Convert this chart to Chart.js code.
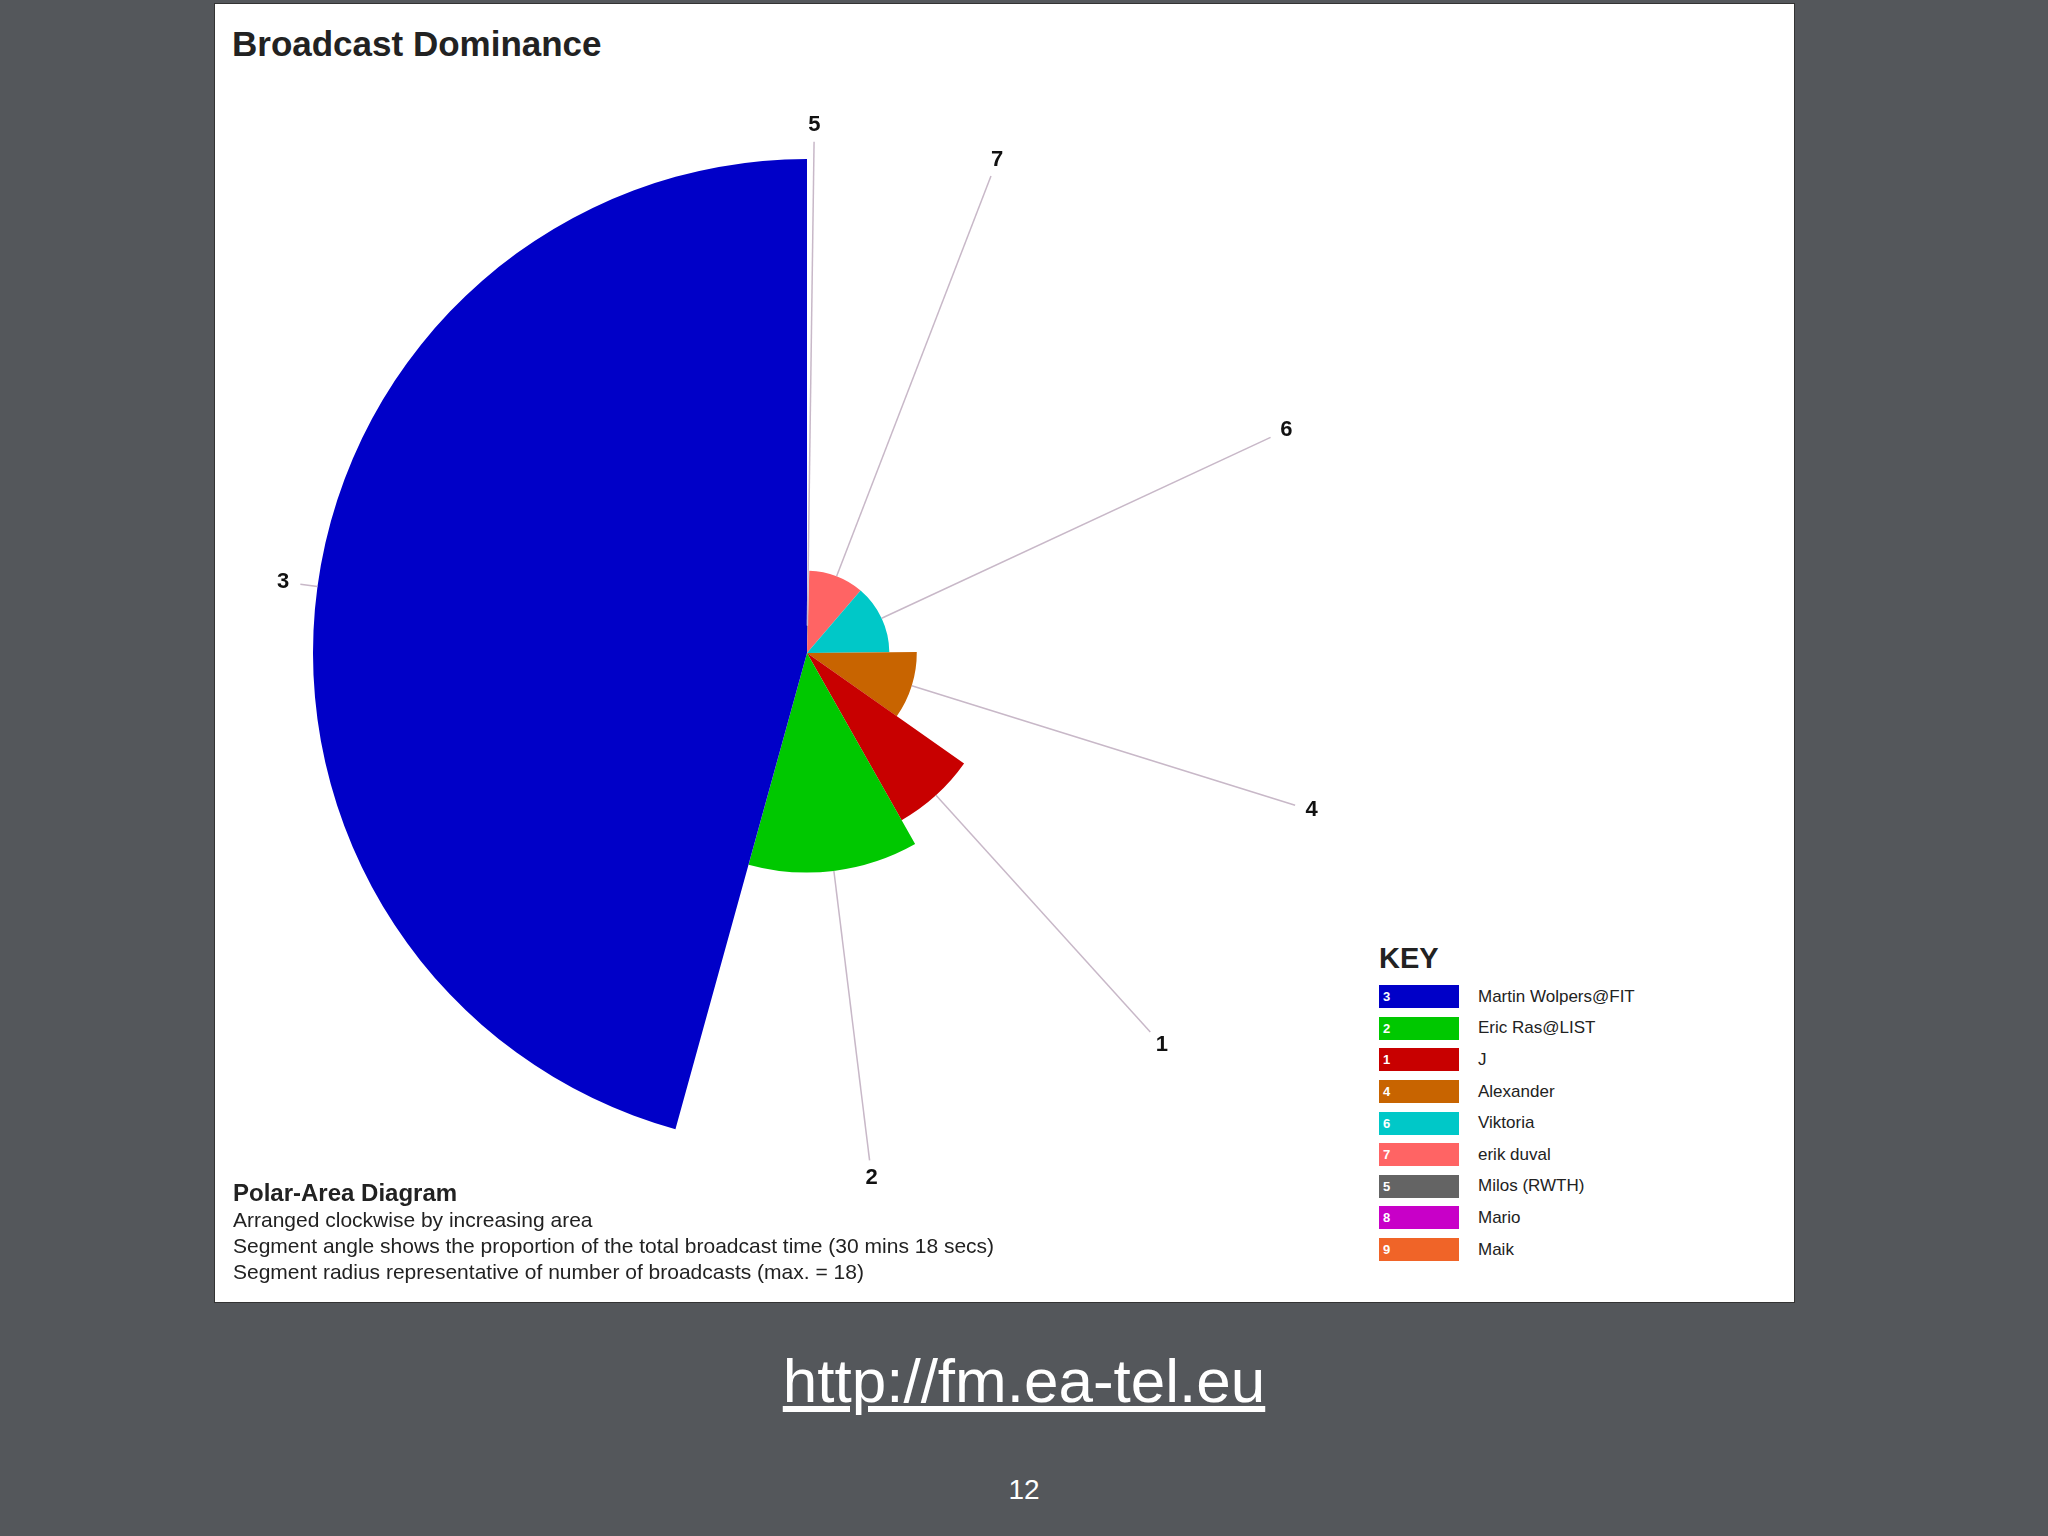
<!DOCTYPE html>
<html>
<head>
<meta charset="utf-8">
<script src="https://cdn.jsdelivr.net/npm/chart.js@4"></script>
<style>
  body { margin: 0; width: 2048px; height: 1536px; background: #54575b; position: relative; overflow: hidden; font-family: "Liberation Sans", Arial, sans-serif; }
  .panel { position: absolute; left: 214px; top: 3px; width: 1579px; height: 1298px; background: #fff; border: 1px solid #333; }
  .title { position: absolute; left: 232px; top: 24px; font-size: 35px; font-weight: bold; color: #222; }
  #wrap { position: absolute; left: 257px; top: 103px; width: 1100px; height: 1100px; }
  .notes { position: absolute; left: 233px; top: 1180px; font-size: 21px; color: #222; line-height: 26px; }
  .notes b { font-size: 24px; }
  .key { position: absolute; left: 1379px; top: 942px; color: #222; }
  .key h3 { margin: 0 0 6px 0; font-size: 29px; }
  .row { display: flex; align-items: center; height: 31.6px; font-size: 17px; }
  .sw { width: 80px; height: 23px; margin-right: 19px; color: #fff; font-size: 13px; font-weight: bold; padding-left: 4px; box-sizing: border-box; line-height: 23px; }
  .url { position: absolute; left: 0; width: 2048px; top: 1345px; text-align: center; font-size: 62px; color: #fff; text-decoration: underline; font-family: "Liberation Sans", Arial, sans-serif; }
  .page { position: absolute; left: 0; width: 2048px; top: 1474px; text-align: center; font-size: 28px; color: #fff; }
</style>
</head>
<body>
<div class="panel"></div>
<div class="title">Broadcast Dominance</div>
<div id="wrap"><canvas id="polar"></canvas></div>
<div class="notes">
  <b>Polar-Area Diagram</b><br>
  Arranged clockwise by increasing area<br>
  Segment angle shows the proportion of the total broadcast time (30 mins 18 secs)<br>
  Segment radius representative of number of broadcasts (max. = 18)
</div>
<div class="key" id="key"><h3>KEY</h3></div>
<div class="url">http://fm.ea-tel.eu</div>
<div class="page">12</div>
<script>
// Segments in clockwise order from 12 o'clock
const ids = ['5', '7', '6', '4', '1', '2', '3', '8', '9'];
const names = ['Milos (RWTH)', 'erik duval', 'Viktoria', 'Alexander', 'J', 'Eric Ras@LIST', 'Martin Wolpers@FIT', 'Mario', 'Maik'];
const seconds = [8, 197, 247, 180, 128, 227, 831, 0, 0];
const broadcasts = [1, 3, 3, 4, 7, 8, 18, 0, 0];
const colors = ['#646464', '#ff6464', '#00c8c8', '#c86400', '#c80000', '#00c800', '#0000c8', '#c800c8', '#f06428'];
const keyOrder = ['3', '2', '1', '4', '6', '7', '5', '8', '9'];
const maxBroadcasts = 18;

// Legend
const key = document.getElementById('key');
keyOrder.forEach(id => {
    const i = ids.indexOf(id);
    const row = document.createElement('div');
    row.className = 'row';
    row.innerHTML = '<div class="sw" style="background:' + colors[i] + '">' + id + '</div>' + names[i];
    key.appendChild(row);
});

// Set each arc's radius from its broadcast count
const radiusPlugin = {
    id: 'radius',
    afterDatasetsUpdate(chart) {
        const meta = chart.getDatasetMeta(0);
        meta.data.forEach((arc, i) => {
            arc.outerRadius = meta.controller.outerRadius * broadcasts[i] / maxBroadcasts;
        });
    },
    afterDatasetsDraw(chart) {
        const ctx = chart.ctx;
        const meta = chart.getDatasetMeta(0);
        const R = meta.controller.outerRadius;
        ctx.save();
        meta.data.forEach((arc, i) => {
            if (!seconds[i]) return;
            const mid = (arc.startAngle + arc.endAngle) / 2;
            const c = Math.cos(mid), s = Math.sin(mid);
            ctx.strokeStyle = '#c8b8c8';
            ctx.lineWidth = 1.5;
            ctx.beginPath();
            ctx.moveTo(arc.x + c * arc.outerRadius, arc.y + s * arc.outerRadius);
            ctx.lineTo(arc.x + c * R * 1.035, arc.y + s * R * 1.035);
            ctx.stroke();
            ctx.fillStyle = '#111';
            ctx.font = 'bold 22px "Liberation Sans", Arial, sans-serif';
            ctx.textAlign = 'center';
            ctx.textBaseline = 'middle';
            ctx.fillText(ids[i], arc.x + c * R * 1.07, arc.y + s * R * 1.07);
        });
        ctx.restore();
    }
};

new Chart(document.getElementById('polar'), {
    type: 'pie',
    data: {
        labels: ids,
        datasets: [{ data: seconds, backgroundColor: colors, borderWidth: 0 }]
    },
    options: {
        responsive: true,
        maintainAspectRatio: false,
        animation: false,
        events: [],
        layout: { padding: 56 },
        plugins: { legend: { display: false }, tooltip: { enabled: false } }
    },
    plugins: [radiusPlugin]
});
</script>
</body>
</html>
